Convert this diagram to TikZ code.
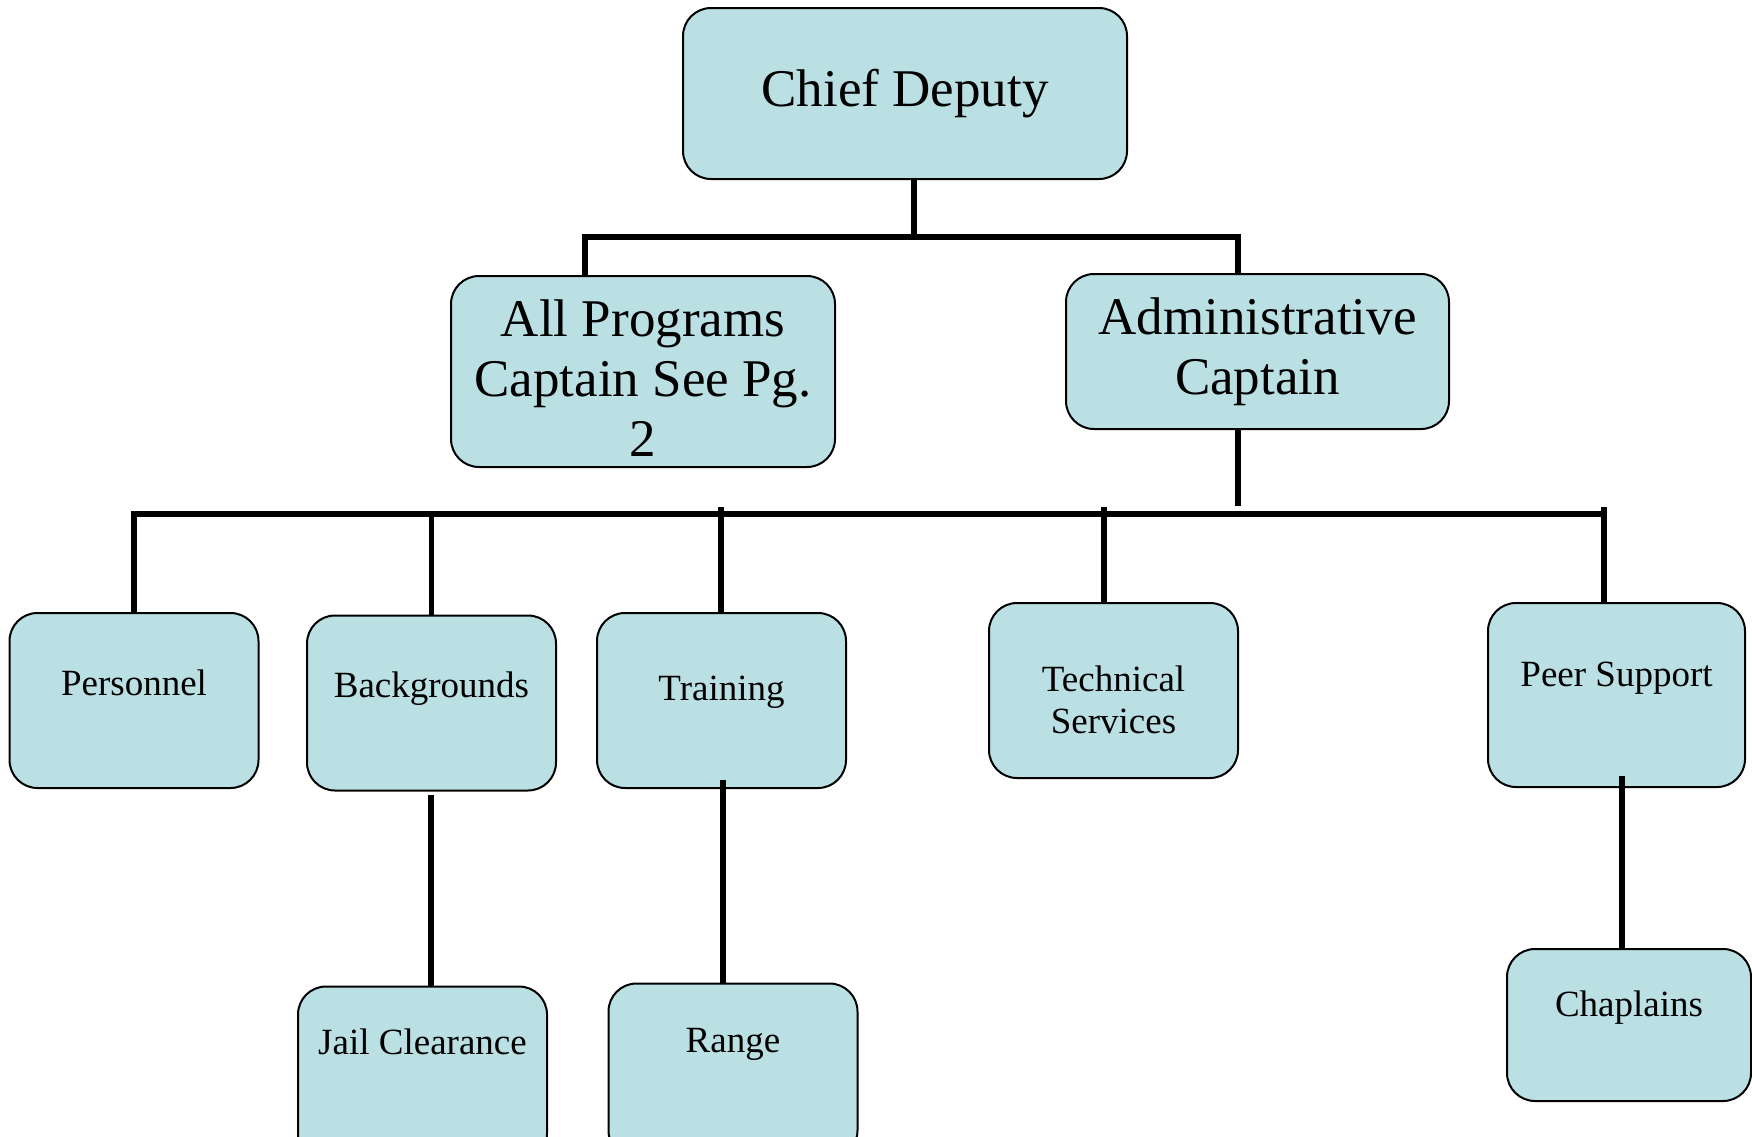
\documentclass[tikz,border=0pt]{standalone}
\usepackage{fontspec}
\setmainfont{Liberation Serif}
\definecolor{boxfill}{RGB}{186,224,228}

\begin{document}
\begin{tikzpicture}[x=0.5pt,y=-0.5pt]
% Styles for the chart
\tikzstyle{chiefbox} = [rectangle, rounded corners=14pt, draw=black, line width=1pt, fill=boxfill, align=center, font=\fontsize{26.5}{30}\selectfont]
\tikzstyle{unitbox} = [rectangle, rounded corners=14pt, draw=black, line width=1pt, fill=boxfill, align=center, font=\fontsize{18.5}{21}\selectfont, minimum width=124.5pt, minimum height=87.5pt]
\tikzstyle{lift} = [text height=13pt, text depth=#1]
\tikzstyle{link} = [draw=black, line width=2.7pt]

\useasboundingbox (0,0) rectangle (1752,1136);

% Top levels
\node[chiefbox, minimum width=222pt, minimum height=85.5pt] (chief) at (905,93.5) {Chief Deputy};
\node[chiefbox, minimum width=192pt, minimum height=95.5pt, text height=86pt, text depth=1.2pt] (allprog) at (643,371.5) {All Programs\\Captain See Pg.\\2};
\node[chiefbox, minimum width=191.5pt, minimum height=77.5pt] (admin) at (1257.5,351.5) {Administrative\\Captain};

% Units under the administrative captain
\node[unitbox, lift=18pt] (pers) at (134,700.5) {Personnel};
\node[unitbox, lift=19pt] (back) at (431.5,703) {Backgrounds};
\node[unitbox, lift=13pt] (train) at (721.5,700.5) {Training};
\node[unitbox, text height=46pt, text depth=3pt] (tech) at (1113.5,690.5) {Technical\\Services};
\node[unitbox, lift=22pt, minimum width=128.5pt, minimum height=92pt] (peer) at (1616.5,695) {Peer Support};

% Lowest level
\node[unitbox, lift=33pt] (jail) at (422.5,1074) {Jail Clearance};
\node[unitbox, lift=32pt] (range) at (733,1071) {Range};
\node[unitbox, lift=22pt, minimum width=122pt, minimum height=76pt] (chap) at (1629,1025) {Chaplains};

% Bus points
\coordinate (tb) at (914,237);
\coordinate (tbl) at (585,237);
\coordinate (tbr) at (1238,237);
\coordinate (ab) at (1238,506);
\coordinate (lbl) at (134,514);
\coordinate (lbr) at (1604,514);
\coordinate (tr) at (721,507);
\coordinate (te) at (1104,507);
\coordinate (pe) at (1604,507);
\coordinate (bj) at (431,795);
\coordinate (tg) at (723,780);
\coordinate (pc) at (1622,776);

% Connectors
\draw[link] (chief.south -| tb) -- (tb);
\draw[link] (allprog.north -| tbl) |- (tbr) -- (admin.north -| tbr);
\draw[link] (admin.south -| ab) -- (ab);
\draw[link] (pers.north) |- (lbr);
\draw[link] (back.north) -- (back.north |- lbl);
\draw[link] (train.north -| tr) -- (tr);
\draw[link] (tech.north -| te) -- (te);
\draw[link] (peer.north -| pe) -- (pe);
\draw[link] (bj) -- (jail.north -| bj);
\draw[link] (tg) -- (range.north -| tg);
\draw[link] (pc) -- (chap.north -| pc);
\end{tikzpicture}
\end{document}
